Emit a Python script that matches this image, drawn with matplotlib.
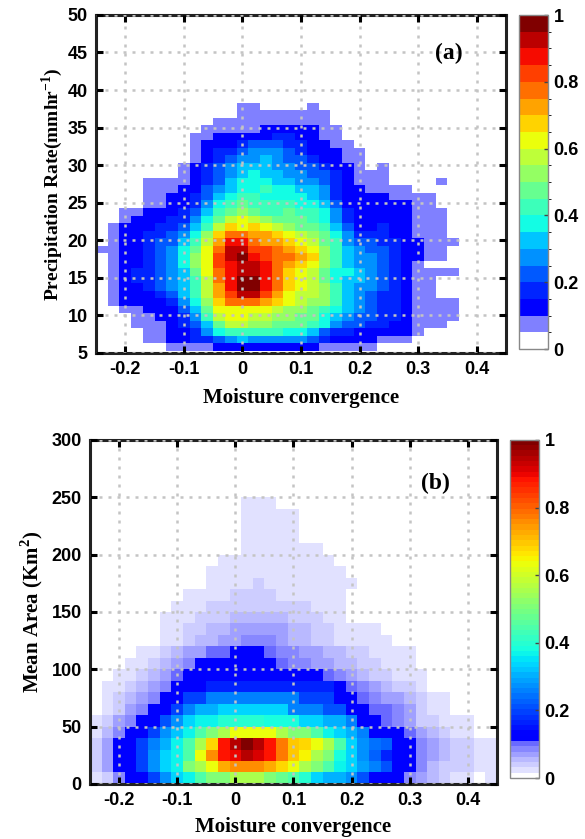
import numpy as np
import matplotlib
matplotlib.use("Agg")
import matplotlib.pyplot as plt
from matplotlib.colors import ListedColormap, BoundaryNorm, Normalize

plt.rcParams['font.family'] = 'Liberation Sans'
plt.rcParams['font.weight'] = 'bold'

# ---- panel (a): precipitation rate vs moisture convergence ----
# one char per cell = colour step of the 20-step bar (0-9, a-j)
# rows go from top (~38 mm/hr) to bottom (~6 mm/hr), columns -0.24 .. 0.36
precip_rows = [
    "0000000000001100001000000000000",
    "0000000000001111111100000000000",
    "0000000000111111111100000000000",
    "0000000001111122222110000000000",
    "0000000011222223322110000000000",
    "0000000012223444332211000000000",
    "0000000012334555432221100000000",
    "0000000012345565443221100000000",
    "0000000123456665544322101000000",
    "0000000123456766554432111000000",
    "0000111123467776655432111000010",
    "0000111224567787766532211110000",
    "0000112234678877776532222111100",
    "0000112235789888877642222221100",
    "001122234689a988988753222221110",
    "00122233579bcba9998753222221110",
    "0122233468bdcdcba99864223221110",
    "012233457adffeedcba975333221110",
    "012234468behhfeedcb985443322111",
    "112234579cfiiggfedca86544322110",
    "01223457acgijhgffeda86554322110",
    "01223457acghiihfedca86554321000",
    "012334569cfhiihfdcb977654321111",
    "012334568bfhjjhfdcb976654321100",
    "012234568behjjhfdcba86554321100",
    "012223468begiigecbba86543321100",
    "012222357adfffedcbaa86543321111",
    "0011222469cccccbaa9876543321111",
    "0001122358bccbbaa99765443321111",
    "00011123469bbaa9998754433221110",
    "0000112235788888776433222221000",
    "0000112233456555554322221110000",
    "0000001111222222222111110000000",
]
conv_a = np.round(np.arange(-0.24, 0.361, 0.02), 2)
rate_lo, rate_hi = 5.3, 38.3

# ---- panel (b): mean area vs moisture convergence ----
# percent of the maximum, rows from top (240-250 km2) to bottom (0-10 km2), columns -0.24 .. 0.44
area_rows = [
    "0 0 0 0 0 0 0 0 0 0 0 0 0 2 2 2 0 0 0 0 0 0 0 0 0 0 0 0 0 0 0 0 0 0 0",
    "0 0 0 0 0 0 0 0 0 0 0 0 0 2 2 2 2 2 0 0 0 0 0 0 0 0 0 0 0 0 0 0 0 0 0",
    "0 0 0 0 0 0 0 0 0 0 0 0 0 2 2 2 2 2 0 0 0 0 0 0 0 0 0 0 0 0 0 0 0 0 0",
    "0 0 0 0 0 0 0 0 0 0 0 0 0 2 2 2 2 2 0 0 0 0 0 0 0 0 0 0 0 0 0 0 0 0 0",
    "0 0 0 0 0 0 0 0 0 0 0 0 0 2 2 2 2 2 2 2 0 0 0 0 0 0 0 0 0 0 0 0 0 0 0",
    "0 0 0 0 0 0 0 0 0 0 0 2 2 2 2 2 2 2 2 2 2 0 0 0 0 0 0 0 0 0 0 0 0 0 0",
    "0 0 0 0 0 0 0 0 0 0 2 2 2 2 2 2 2 2 2 2 2 2 0 0 0 0 0 0 0 0 0 0 0 0 0",
    "0 0 0 0 0 0 0 0 0 0 2 2 2 2 4 2 2 2 2 2 2 2 2 0 0 0 0 0 0 0 0 0 0 0 0",
    "0 0 0 0 0 0 0 0 2 2 2 2 4 4 4 4 2 2 2 2 2 2 0 0 0 0 0 0 0 0 0 0 0 0 0",
    "0 0 0 0 0 0 0 2 2 2 4 4 4 4 4 4 4 4 4 2 2 2 0 0 0 0 0 0 0 0 0 0 0 0 0",
    "0 0 0 0 0 0 2 2 2 4 4 4 5 5 5 5 5 4 4 4 2 2 0 0 0 0 0 0 0 0 0 0 0 0 0",
    "0 0 0 0 0 0 2 2 4 4 5 5 7 7 7 7 7 5 5 4 4 2 2 2 2 0 0 0 0 0 0 0 0 0 0",
    "0 0 0 0 0 0 2 2 4 5 5 7 7 9 9 9 7 5 5 4 4 2 2 2 2 2 0 0 0 0 0 0 0 0 0",
    "0 0 0 0 2 2 4 5 7 7 10 10 12 12 12 10 9 9 7 7 5 5 4 4 2 2 2 2 0 0 0 0 0 0 0",
    "0 0 0 2 2 4 5 7 9 12 12 12 12 12 12 12 10 9 9 7 7 5 5 4 4 2 2 2 0 0 0 0 0 0 0",
    "0 0 2 2 4 5 7 10 12 12 14 14 14 14 14 14 14 14 12 12 10 9 7 5 4 4 2 2 2 0 0 0 0 0 0",
    "0 2 2 4 5 7 9 12 12 12 16 16 16 16 16 16 16 16 16 16 16 12 10 9 7 5 4 4 2 0 0 0 0 0 0",
    "0 2 4 5 7 9 12 12 19 19 25 25 25 25 25 25 25 25 19 19 19 12 12 10 9 7 7 5 4 2 2 0 0 0 0",
    "0 2 4 7 9 12 12 19 25 31 31 34 34 34 34 34 34 25 25 25 21 21 12 12 10 10 9 7 4 2 2 0 0 0 0",
    "2 4 7 9 12 12 21 28 33 37 37 40 40 40 40 38 38 38 34 34 30 30 25 12 12 10 9 7 4 4 2 2 2 0 0",
    "2 5 9 12 12 19 27 32 37 44 50 56 63 63 63 63 56 50 50 44 37 34 30 25 12 12 12 10 7 5 4 2 2 0 0",
    "4 7 12 12 19 25 31 37 44 56 68 88 95 99 95 88 78 70 68 63 56 44 33 28 24 22 14 12 9 7 5 4 4 2 2",
    "4 7 12 12 20 28 34 37 45 63 75 88 90 95 92 88 78 70 65 56 50 38 33 28 22 17 13 12 9 7 5 4 4 2 2",
    "4 7 12 12 19 27 33 37 50 56 63 72 75 75 75 72 68 63 56 50 44 37 33 29 25 21 12 12 8 5 4 4 4 2 2",
    "2 4 9 12 12 20 27 33 37 44 50 50 56 56 56 50 47 44 40 34 30 30 27 21 12 12 12 9 7 5 4 2 2 0 2",
]
conv_b = np.round(np.arange(-0.24, 0.441, 0.02), 2)
area_edges = np.arange(0, 251, 10)

# ---- decode ----
steps = "0123456789abcdefghij"
lev_a = np.array([[steps.index(c) for c in r.ljust(31, '0')[:31]] for r in precip_rows[::-1]], float)
val_a = np.ma.masked_equal(lev_a, 0)
val_a = (val_a + 0.5) / 20.0

val_b = np.array([[float(v) for v in r.split()] for r in area_rows[::-1]])
val_b = np.ma.masked_equal(val_b, 0) / 100.0

def edges(c):
    return np.append(c - 0.01, c[-1] + 0.01)

jet = plt.cm.jet
cmap_a = ListedColormap(['white', '#8080ff'] + [jet(t) for t in np.linspace(0.11, 1, 18)])
norm_a = BoundaryNorm(np.linspace(0, 1, 21), 20)
cmap_b = ListedColormap(['white', '#e1e1ff', '#cdcdff', '#b9b9ff', '#a0a0ff', '#8787ff', '#6969ff']
                        + [jet(t) for t in np.linspace(0.11, 1, 57)])
norm_b = Normalize(0, 1)

fig = plt.figure(figsize=(5.85, 8.39), dpi=100)
ax_a = fig.add_axes([0.1641, 0.5793, 0.7009, 0.4029])
cax_a = fig.add_axes([0.8872, 0.584, 0.0496, 0.398])
ax_b = fig.add_axes([0.1538, 0.0656, 0.6957, 0.41])
cax_b = fig.add_axes([0.8718, 0.0727, 0.0496, 0.403])

m_a = ax_a.pcolormesh(edges(conv_a), np.linspace(rate_lo, rate_hi, len(precip_rows) + 1),
                      val_a, cmap=cmap_a, norm=norm_a)
m_b = ax_b.pcolormesh(edges(conv_b), area_edges, val_b, cmap=cmap_b, norm=norm_b)

serif = 'Liberation Serif'

def style(ax, yticks, ylim):
    ax.set_xlim(-0.25, 0.45)
    ax.set_ylim(*ylim)
    ax.set_xticks([-0.2, -0.1, 0, 0.1, 0.2, 0.3, 0.4])
    ax.set_xticklabels(['-0.2', '-0.1', '0', '0.1', '0.2', '0.3', '0.4'])
    ax.set_yticks(yticks)
    ax.set_yticklabels([str(v) for v in yticks])
    ax.grid(True, color='#c4c4c4', linestyle=(0, (1.2, 2.4)), linewidth=1.8)
    ax.set_axisbelow(False)
    ax.tick_params(direction='in', length=5, width=2.2, top=True, right=True,
                   labelsize=13, pad=6)
    for sp in ax.spines.values():
        sp.set_linewidth(2.2)
        sp.set_color('#222222')

style(ax_a, list(range(5, 51, 5)), (5, 50))
style(ax_b, list(range(0, 301, 50)), (0, 300))

ax_a.set_xlabel('Moisture convergence', family=serif, fontsize=15, fontweight='bold')
ax_a.xaxis.set_label_coords(0.5, -0.105)
ax_a.set_ylabel(r'Precipitation Rate(mmhr$^\mathregular{-1}$)', family=serif, fontsize=14, fontweight='bold')
ax_a.yaxis.set_label_coords(-0.075, 0.5)
ax_a.text(0.86, 0.885, '(a)', transform=ax_a.transAxes, family=serif, fontsize=17,
          fontweight='bold', ha='center', va='center')

ax_b.set_xlabel('Moisture convergence', family=serif, fontsize=15, fontweight='bold')
ax_b.xaxis.set_label_coords(0.5, -0.097)
ax_b.set_ylabel(r'Mean Area (Km$^\mathregular{2}$)', family=serif, fontsize=15, fontweight='bold')
ax_b.yaxis.set_label_coords(-0.11, 0.5)
ax_b.text(0.85, 0.875, '(b)', transform=ax_b.transAxes, family=serif, fontsize=17,
          fontweight='bold', ha='center', va='center')

for m, cax in ((m_a, cax_a), (m_b, cax_b)):
    cb = fig.colorbar(m, cax=cax, ticks=[0, 0.2, 0.4, 0.6, 0.8, 1.0])
    cb.ax.set_yticklabels(['0', '0.2', '0.4', '0.6', '0.8', '1'])
    cb.ax.tick_params(direction='in', length=3, width=1, labelsize=13, pad=4, color='#444444')
    cb.outline.set_edgecolor('#888888')
    cb.outline.set_linewidth(1.0)

fig.savefig('out.png', dpi=100)
